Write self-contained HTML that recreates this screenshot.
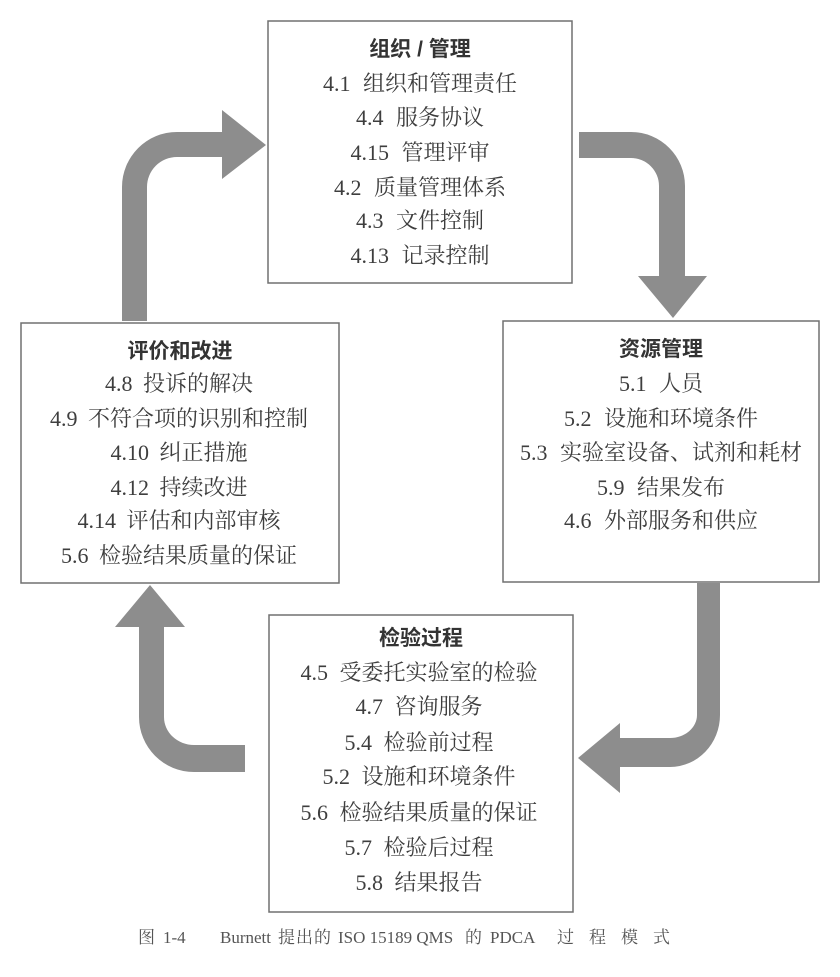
<!DOCTYPE html>
<html>
<head>
<meta charset="utf-8">
<style>
  html, body { margin:0; padding:0; background:#ffffff; }
  svg { display:block; }
  .it { font-family:"Liberation Serif","Noto Serif CJK SC",serif; font-size:22px; fill:#3e3e3e; }
  .tt { font-family:"Liberation Sans","Noto Sans CJK SC",sans-serif; font-size:21px; font-weight:bold; fill:#333333; }
  .cap { font-family:"Liberation Serif","Noto Serif CJK SC",serif; font-size:17px; fill:#555555; }
</style>
</head>
<body>
<svg width="840" height="977" viewBox="0 0 840 977" xmlns="http://www.w3.org/2000/svg">
  <rect x="0" y="0" width="840" height="977" fill="#ffffff"/>

  <!-- Arrows -->
  <g fill="#8d8d8d">
    <path d="M122,321 L122,187 A55,55 0 0 1 177,132 L222,132 L222,110 L266,145 L222,179 L222,157 L177,157 A30,30 0 0 0 147,187 L147,321 Z"/>
    <path d="M579,132 L631,132 A54,54 0 0 1 685,186 L685,276 L707,276 L673,318 L638,276 L659,276 L659,186 A28,28 0 0 0 631,158 L579,158 Z"/>
    <path d="M697,583 L697,715 A27,23 0 0 1 670,738 L620,738 L620,723 L578,758 L620,793 L620,767 L670,767 A50,52 0 0 0 720,715 L720,583 Z"/>
    <path d="M245,745 L194,745 A30,28 0 0 1 164,717 L164,627 L185,627 L150,585 L115,627 L139,627 L139,717 A55,55 0 0 0 194,772 L245,772 Z"/>
  </g>

  <!-- Boxes -->
  <g fill="#ffffff" stroke="#707070" stroke-width="1.5">
    <rect x="268" y="21" width="304" height="262"/>
    <rect x="503" y="321" width="316" height="261"/>
    <rect x="21" y="323" width="318" height="260"/>
    <rect x="269" y="615" width="304" height="297"/>
  </g>

  <!-- Top box -->
  <g text-anchor="middle">
    <text class="tt" x="420" y="56">组织 / 管理</text>
    <text class="it" x="420" y="91">4.1 <tspan dx="7">组织和管理责任</tspan></text>
    <text class="it" x="420" y="125">4.4 <tspan dx="7">服务协议</tspan></text>
    <text class="it" x="420" y="160">4.15 <tspan dx="7">管理评审</tspan></text>
    <text class="it" x="420" y="195">4.2 <tspan dx="7">质量管理体系</tspan></text>
    <text class="it" x="420" y="228">4.3 <tspan dx="7">文件控制</tspan></text>
    <text class="it" x="420" y="263">4.13 <tspan dx="7">记录控制</tspan></text>
  </g>

  <!-- Right box -->
  <g text-anchor="middle">
    <text class="tt" x="661" y="356">资源管理</text>
    <text class="it" x="661" y="391">5.1 <tspan dx="7">人员</tspan></text>
    <text class="it" x="661" y="426">5.2 <tspan dx="7">设施和环境条件</tspan></text>
    <text class="it" x="661" y="460">5.3 <tspan dx="7">实验室设备、试剂和耗材</tspan></text>
    <text class="it" x="661" y="495">5.9 <tspan dx="7">结果发布</tspan></text>
    <text class="it" x="661" y="528">4.6 <tspan dx="7">外部服务和供应</tspan></text>
  </g>

  <!-- Left box -->
  <g text-anchor="middle">
    <text class="tt" x="180" y="358">评价和改进</text>
    <text class="it" x="179" y="391">4.8 <tspan dx="5">投诉的解决</tspan></text>
    <text class="it" x="179" y="426">4.9 <tspan dx="5">不符合项的识别和控制</tspan></text>
    <text class="it" x="179" y="460">4.10 <tspan dx="5">纠正措施</tspan></text>
    <text class="it" x="179" y="495">4.12 <tspan dx="5">持续改进</tspan></text>
    <text class="it" x="179" y="528">4.14 <tspan dx="5">评估和内部审核</tspan></text>
    <text class="it" x="179" y="563">5.6 <tspan dx="5">检验结果质量的保证</tspan></text>
  </g>

  <!-- Bottom box -->
  <g text-anchor="middle">
    <text class="tt" x="421" y="645">检验过程</text>
    <text class="it" x="419" y="680">4.5 <tspan dx="6">受委托实验室的检验</tspan></text>
    <text class="it" x="419" y="714">4.7 <tspan dx="6">咨询服务</tspan></text>
    <text class="it" x="419" y="750">5.4 <tspan dx="6">检验前过程</tspan></text>
    <text class="it" x="419" y="784">5.2 <tspan dx="6">设施和环境条件</tspan></text>
    <text class="it" x="419" y="820">5.6 <tspan dx="6">检验结果质量的保证</tspan></text>
    <text class="it" x="419" y="855">5.7 <tspan dx="6">检验后过程</tspan></text>
    <text class="it" x="419" y="890">5.8 <tspan dx="6">结果报告</tspan></text>
  </g>

  <!-- Caption -->
  <text class="cap" y="943"><tspan x="138">图</tspan><tspan x="163">1-4</tspan><tspan x="220">Burnett</tspan><tspan x="278">提</tspan><tspan x="296">出</tspan><tspan x="314">的</tspan><tspan x="338">ISO 15189 QMS</tspan><tspan x="465">的</tspan><tspan x="490">PDCA</tspan><tspan x="557">过</tspan><tspan x="589">程</tspan><tspan x="621">模</tspan><tspan x="653">式</tspan></text>
</svg>
</body>
</html>
